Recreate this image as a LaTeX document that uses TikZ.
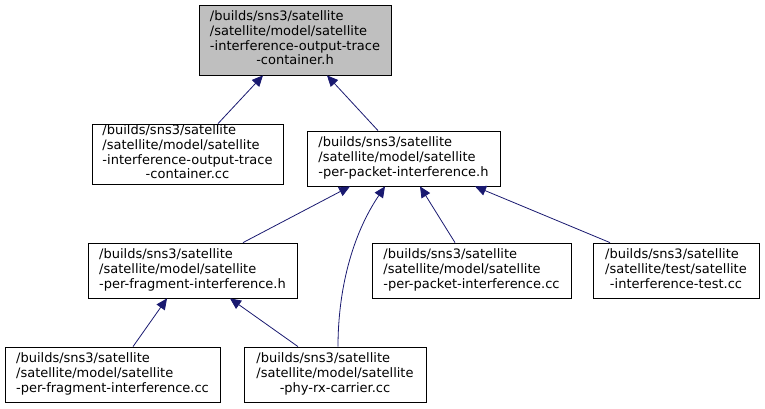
\documentclass[tikz,border=0pt]{standalone}
\usepackage{fontspec}
\setmainfont{DejaVu Sans}
\usetikzlibrary{arrows.meta}
\definecolor{edgeblue}{HTML}{191970}
\definecolor{hdrgray}{HTML}{BFBFBF}
\newcommand{\filelabel}[2]{\begin{tabular}{@{}l@{}}#1\\\multicolumn{1}{@{}c@{}}{#2}\end{tabular}}

\begin{document}
\begin{tikzpicture}[x=1pt, y=-1pt]
	\tikzstyle{every node} = [draw=black, line width=0.8pt, fill=white, rectangle, inner sep=0pt, font=\fontsize{13}{14.7}\selectfont]
	\tikzstyle{edge} = [draw=edgeblue, line width=0.8pt, -{Triangle[length=11pt, width=10pt]}]
	\useasboundingbox (0,0) rectangle (765,408);
	\node (Top) [fill=hdrgray, minimum width=192pt, minimum height=70pt] at (295, 40) {\filelabel{/builds/sns3/satellite\\/satellite/model/satellite\\-interference-output-trace}{-container.h}};
	\node (TraceCC) [minimum width=191pt, minimum height=60pt] at (187.5, 154) {\filelabel{/builds/sns3/satellite\\/satellite/model/satellite\\-interference-output-trace}{-container.cc}};
	\node (PacketH) [minimum width=193pt, minimum height=55pt] at (403.5, 158.5) {\filelabel{/builds/sns3/satellite\\/satellite/model/satellite}{-per-packet-interference.h}};
	\node (FragH) [minimum width=209pt, minimum height=55pt] at (192.5, 270.5) {\filelabel{/builds/sns3/satellite\\/satellite/model/satellite}{-per-fragment-interference.h}};
	\node (PacketCC) [minimum width=199pt, minimum height=55pt] at (471.5, 270.5) {\filelabel{/builds/sns3/satellite\\/satellite/model/satellite}{-per-packet-interference.cc}};
	\node (TestCC) [minimum width=166pt, minimum height=55pt] at (676, 270.5) {\filelabel{/builds/sns3/satellite\\/satellite/test/satellite}{-interference-test.cc}};
	\node (FragCC) [minimum width=215pt, minimum height=55pt] at (112.5, 374.5) {\filelabel{/builds/sns3/satellite\\/satellite/model/satellite}{-per-fragment-interference.cc}};
	\node (RxCC) [minimum width=182pt, minimum height=55pt] at (335, 374.5) {\filelabel{/builds/sns3/satellite\\/satellite/model/satellite}{-phy-rx-carrier.cc}};
	\draw [edge] ([xshift=30.5pt]TraceCC.north)--([xshift=-32pt]Top.south);
	\draw [edge] ([xshift=-25.5pt]PacketH.north)--([xshift=32pt]Top.south);
	\draw [edge] ([xshift=50.5pt]FragH.north)--([xshift=-53.5pt]PacketH.south);
	\draw [edge] ([xshift=3pt]RxCC.north) .. controls (338, 290) and (352, 235) .. ([xshift=-18.5pt]PacketH.south);
	\draw [edge] ([xshift=-16.5pt]PacketCC.north)--([xshift=16.5pt]PacketH.south);
	\draw [edge] ([xshift=-66pt]TestCC.north)--([xshift=71.5pt]PacketH.south);
	\draw [edge] ([xshift=20.5pt]FragCC.north)--([xshift=-25.5pt]FragH.south);
	\draw [edge] ([xshift=-37pt]RxCC.north)--([xshift=37.5pt]FragH.south);
\end{tikzpicture}
\end{document}
